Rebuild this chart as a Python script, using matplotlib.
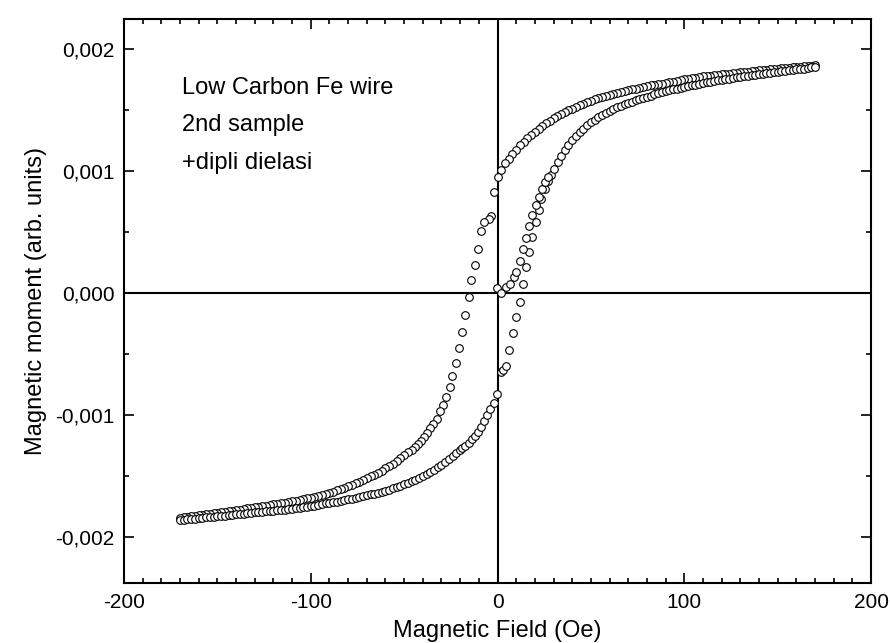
import numpy as np
import matplotlib
matplotlib.use("Agg")
import matplotlib.pyplot as plt
from matplotlib.ticker import MultipleLocator, FuncFormatter

plt.rcParams['font.family'] = ['Liberation Sans', 'DejaVu Sans']

# magnetic moment values are in units of 1e-3 (arb. units)

# descending branch, saturated part: H = 170, 168, ..., 0 Oe
down_top_h = np.arange(170, -1, -2)
down_top_m = [1.865, 1.862, 1.860, 1.857, 1.855, 1.852, 1.850, 1.847, 1.845, 1.842,
              1.840, 1.837, 1.834, 1.830, 1.827, 1.824, 1.821, 1.818, 1.815, 1.811,
              1.808, 1.804, 1.800, 1.797, 1.794, 1.791, 1.788, 1.785, 1.782, 1.778,
              1.775, 1.771, 1.766, 1.761, 1.756, 1.750, 1.745, 1.739, 1.733, 1.728,
              1.722, 1.717, 1.712, 1.707, 1.701, 1.695, 1.689, 1.682, 1.675, 1.668,
              1.661, 1.654, 1.647, 1.640, 1.632, 1.624, 1.615, 1.606, 1.596, 1.586,
              1.575, 1.563, 1.551, 1.538, 1.525, 1.511, 1.497, 1.482, 1.466, 1.449,
              1.431, 1.412, 1.391, 1.369, 1.346, 1.321, 1.295, 1.268, 1.240, 1.209,
              1.176, 1.140, 1.102, 1.062, 1.010, 0.950]

# descending branch, switching part
down_mid_h = [-2.0, -3.4, -4.8, -7.0, -8.7, -10.6, -12.3, -14.1, -15.5, -17.3,
              -18.9, -20.8, -22.4, -24.1, -25.7, -27.5, -29.1, -30.7, -32.5, -34.3,
              -35.9, -37.7, -39.5, -41.0, -42.8, -44.4]
down_mid_m = [0.83, 0.63, 0.61, 0.585, 0.51, 0.36, 0.23, 0.107, -0.035, -0.18,
              -0.32, -0.45, -0.57, -0.68, -0.77, -0.85, -0.92, -0.97, -1.03, -1.07,
              -1.11, -1.15, -1.18, -1.21, -1.24, -1.26]

# descending branch, negative saturation: H = -46, -48, ..., -170 Oe
down_low_h = np.arange(-46, -171, -2)
down_low_m = [-1.285, -1.305, -1.330, -1.354, -1.378, -1.400, -1.420, -1.438, -1.455, -1.472,
              -1.488, -1.503, -1.518, -1.533, -1.547, -1.560, -1.572, -1.584, -1.596, -1.607,
              -1.618, -1.628, -1.638, -1.647, -1.655, -1.663, -1.670, -1.677, -1.684, -1.690,
              -1.696, -1.702, -1.708, -1.713, -1.718, -1.723, -1.728, -1.733, -1.738, -1.743,
              -1.748, -1.753, -1.757, -1.762, -1.766, -1.771, -1.775, -1.780, -1.784, -1.789,
              -1.793, -1.797, -1.801, -1.805, -1.809, -1.813, -1.817, -1.821, -1.825, -1.829,
              -1.834, -1.840, -1.848]

# ascending branch, negative saturation: H = -170, -168, ..., -20 Oe
up_low_h = np.arange(-170, -19, 2)
up_low_m = [-1.860, -1.858, -1.855, -1.852, -1.849, -1.846, -1.843, -1.840, -1.837, -1.834,
            -1.831, -1.828, -1.825, -1.822, -1.818, -1.815, -1.812, -1.808, -1.805, -1.801,
            -1.798, -1.795, -1.792, -1.790, -1.787, -1.784, -1.782, -1.779, -1.776, -1.773,
            -1.770, -1.766, -1.762, -1.758, -1.754, -1.749, -1.743, -1.737, -1.731, -1.725,
            -1.719, -1.714, -1.709, -1.703, -1.698, -1.692, -1.686, -1.679, -1.672, -1.665,
            -1.658, -1.651, -1.644, -1.636, -1.628, -1.620, -1.611, -1.601, -1.591, -1.580,
            -1.568, -1.556, -1.543, -1.530, -1.515, -1.500, -1.483, -1.466, -1.447, -1.427,
            -1.407, -1.385, -1.362, -1.338, -1.313, -1.287]

# ascending branch, switching part
up_mid_h = [-18.9, -17.3, -15.5, -13.9, -12.2, -10.6, -8.7, -7.1, -5.4, -3.8,
            -2.0, -0.4, 2.0, 2.8, 4.7, 6.4, 8.2, 10.0, 11.8, 13.6,
            15.0, 16.8, 18.6, 20.4, 22.1, 23.4, 25.2, 26.8, 28.6, 30.4,
            32.2, 34.0]
up_mid_m = [-1.27, -1.25, -1.23, -1.20, -1.17, -1.14, -1.10, -1.05, -1.00, -0.95,
            -0.90, -0.83, -0.65, -0.63, -0.60, -0.47, -0.33, -0.20, -0.071, 0.07,
            0.21, 0.34, 0.46, 0.58, 0.68, 0.77, 0.85, 0.92, 0.97, 1.02,
            1.07, 1.12]

# ascending branch, positive saturation: H = 36, 38, ..., 170 Oe
up_top_h = np.arange(36, 171, 2)
up_top_m = [1.170, 1.210, 1.250, 1.285, 1.318, 1.348, 1.375, 1.400, 1.422, 1.442,
            1.461, 1.478, 1.494, 1.508, 1.521, 1.534, 1.546, 1.557, 1.568, 1.579,
            1.589, 1.599, 1.609, 1.618, 1.627, 1.636, 1.645, 1.654, 1.662, 1.669,
            1.676, 1.683, 1.690, 1.696, 1.702, 1.708, 1.714, 1.720, 1.726, 1.731,
            1.736, 1.742, 1.747, 1.752, 1.757, 1.762, 1.767, 1.771, 1.775, 1.780,
            1.784, 1.788, 1.792, 1.796, 1.800, 1.804, 1.808, 1.812, 1.816, 1.820,
            1.824, 1.828, 1.832, 1.836, 1.840, 1.845, 1.850, 1.855]

# second (doubled) set of points near the origin
extra_h = [-0.4, 2.0, 4.7, 6.8, 8.6, 10.0, 11.8, 13.6, 15.0, 16.8,
           18.6, 20.4, 22.2, 23.8, 25.6, 27.2]
extra_m = [0.04, 0.003, 0.047, 0.074, 0.13, 0.17, 0.26, 0.36, 0.45, 0.55,
           0.64, 0.72, 0.79, 0.85, 0.91, 0.95]

info_lines = ["Low Carbon Fe wire", "2nd sample", "+dipli dielasi"]

H = np.concatenate([down_top_h, down_mid_h, down_low_h, up_low_h, up_mid_h, up_top_h, extra_h])
M = np.concatenate([down_top_m, down_mid_m, down_low_m, up_low_m, up_mid_m, up_top_m, extra_m]) * 1e-3

fig = plt.figure(figsize=(8.9, 6.43), dpi=100)
ax = fig.add_axes([0.1393, 0.0933, 0.8394, 0.8772])

ax.axhline(0, color='black', lw=1.5, zorder=1)
ax.axvline(0, color='black', lw=1.5, zorder=1)
ax.plot(H, M, 'o', ms=5.5, mfc='white', mec='black', mew=0.8, ls='none', zorder=2)

ax.set_xlim(-200, 200)
ax.set_ylim(-0.002377, 0.002246)

ax.xaxis.set_major_locator(MultipleLocator(100))
ax.xaxis.set_minor_locator(MultipleLocator(10))
ax.yaxis.set_major_locator(MultipleLocator(0.001))
ax.yaxis.set_minor_locator(MultipleLocator(0.0005))
ax.xaxis.set_major_formatter(FuncFormatter(lambda v, p: "%d" % round(v)))
ax.yaxis.set_major_formatter(FuncFormatter(lambda v, p: ("%.3f" % v).replace(".", ",").replace("-0,000", "0,000")))

ax.tick_params(which='both', direction='in', top=True, right=True, width=1.2, labelsize=15)
ax.tick_params(which='major', length=7, pad=7)
ax.tick_params(which='minor', length=3.5)
for s in ax.spines.values():
    s.set_linewidth(1.5)

ax.set_xlabel("Magnetic Field (Oe)", fontsize=17, labelpad=6)
ax.set_ylabel("Magnetic moment (arb. units)", fontsize=17, labelpad=6)

ax.text(-169, 0.00177, "\n".join(info_lines), fontsize=17, va='top', ha='left', linespacing=1.9)

fig.savefig("out.png", dpi=100)
